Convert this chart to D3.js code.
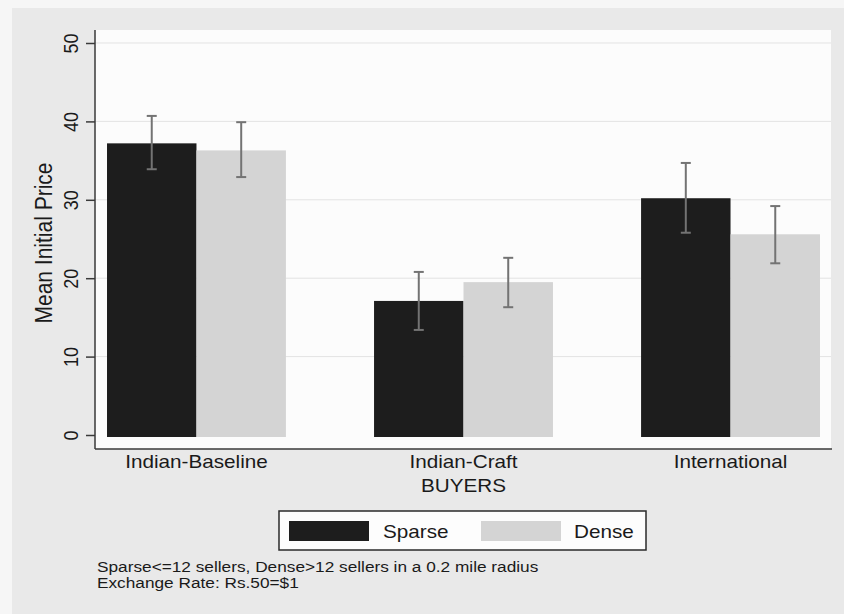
<!DOCTYPE html>
<html>
<head>
<meta charset="utf-8">
<script src="https://cdn.jsdelivr.net/npm/d3@7"></script>
<style>
  html, body { margin: 0; padding: 0; background: #f6f6f6; }
  svg { display: block; }
  text { font-family: "Liberation Sans", Arial, sans-serif; fill: #1a1a1a; }
</style>
</head>
<body>
<svg id="chart" width="844" height="614"></svg>
<script>
// Buyer groups and seller-density series
const categories = ["Indian-Baseline", "Indian-Craft", "International"];
const series = ["Sparse", "Dense"];

// Mean initial price per group (Rs.)
const sparseMean = [37.2, 17.1, 30.2];
const denseMean  = [36.3, 19.5, 25.6];

// 95% confidence bounds
const sparseLow  = [33.9, 13.4, 25.8];
const sparseHigh = [40.7, 20.8, 34.7];
const denseLow   = [32.9, 16.3, 21.9];
const denseHigh  = [39.9, 22.6, 29.2];

const yTicks = [0, 10, 20, 30, 40, 50];
const xTitle = "BUYERS";
const yTitle = "Mean Initial Price";
const notes = [
  "Sparse<=12 sellers, Dense>12 sellers in a 0.2 mile radius",
  "Exchange Rate: Rs.50=$1"
];

const colors = { Sparse: "#1d1d1d", Dense: "#d4d4d4" };

const svg = d3.select("#chart");
const W = 844, H = 614;
const plot = { left: 95, right: 831, top: 30, bottom: 449 };
const stretch = 1.15; // horizontal glyph stretch of the chart's type

// Page and graph background
svg.append("rect").attr("x", 0).attr("y", 0).attr("width", W).attr("height", H).attr("fill", "#f6f6f6");
svg.append("rect").attr("x", 12).attr("y", 8).attr("width", W - 12).attr("height", H - 8).attr("fill", "#e9e9e9");
svg.append("rect")
  .attr("x", plot.left).attr("y", plot.top)
  .attr("width", plot.right - plot.left).attr("height", plot.bottom - plot.top)
  .attr("fill", "#fcfcfc");

// Scales
const x0 = d3.scaleBand().domain(categories).range([plot.left, plot.right + 1])
  .paddingInner(0.33).paddingOuter(0.045);
const x1 = d3.scaleBand().domain(series).range([0, x0.bandwidth()]).padding(0);
const y = d3.scaleLinear().domain([0, 50]).range([435, 43]);

// Horizontal gridlines
svg.append("g").selectAll("line").data(yTicks.filter(d => d > 0)).join("line")
  .attr("x1", plot.left).attr("x2", plot.right)
  .attr("y1", d => y(d)).attr("y2", d => y(d))
  .attr("stroke", "#e3e3e3").attr("stroke-width", 1);

// Rows of bar data
const rows = categories.map((c, i) => ({
  cat: c,
  values: [
    { s: "Sparse", v: sparseMean[i], lo: sparseLow[i], hi: sparseHigh[i] },
    { s: "Dense",  v: denseMean[i],  lo: denseLow[i],  hi: denseHigh[i] }
  ]
}));

const groups = svg.append("g").selectAll("g").data(rows).join("g")
  .attr("transform", d => `translate(${x0(d.cat)},0)`);

groups.selectAll("rect").data(d => d.values).join("rect")
  .attr("x", d => x1(d.s))
  .attr("width", x1.bandwidth())
  .attr("y", d => y(d.v))
  .attr("height", d => y(0) - y(d.v) + 2)
  .attr("fill", d => colors[d.s]);

// Error bars
const eb = groups.selectAll("g.err").data(d => d.values).join("g").attr("class", "err")
  .attr("transform", d => `translate(${x1(d.s) + x1.bandwidth() / 2},0)`)
  .attr("stroke", "#737373").attr("stroke-width", 2);
eb.append("line").attr("x1", 0).attr("x2", 0).attr("y1", d => y(d.lo)).attr("y2", d => y(d.hi));
eb.append("line").attr("x1", -5).attr("x2", 5).attr("y1", d => y(d.hi)).attr("y2", d => y(d.hi));
eb.append("line").attr("x1", -5).attr("x2", 5).attr("y1", d => y(d.lo)).attr("y2", d => y(d.lo));

// Axes lines
svg.append("line").attr("x1", plot.left).attr("x2", plot.left)
  .attr("y1", plot.top).attr("y2", plot.bottom)
  .attr("stroke", "#3a3a3a").attr("stroke-width", 1.5);
svg.append("line").attr("x1", plot.left).attr("x2", plot.right + 1)
  .attr("y1", plot.bottom).attr("y2", plot.bottom)
  .attr("stroke", "#3a3a3a").attr("stroke-width", 1.5);

// Y axis ticks and rotated labels
const yAxis = d3.axisLeft(y).tickValues(yTicks).tickSize(9).tickFormat(d3.format("d"));
const yg = svg.append("g").attr("transform", `translate(${plot.left},0)`).call(yAxis);
yg.select(".domain").remove();
yg.selectAll(".tick line").attr("stroke", "#3a3a3a").attr("stroke-width", 1.5);
yg.selectAll(".tick text").remove();
yg.selectAll(".tick").append("text")
  .attr("transform", `translate(${78 - plot.left},0) scale(${stretch},1) rotate(-90)`)
  .attr("text-anchor", "middle")
  .attr("font-size", 18)
  .attr("fill", "#1a1a1a")
  .text(d => d);

// Helper for stretched horizontal text
function label(x, yy, txt, size, anchor) {
  return svg.append("text")
    .attr("transform", `translate(${x},${yy}) scale(${stretch},1)`)
    .attr("text-anchor", anchor || "start")
    .attr("font-size", size)
    .text(txt);
}

// Category labels and axis title
categories.forEach(c => label(x0(c) + x0.bandwidth() / 2, 468, c, 18, "middle"));
label(x0("Indian-Craft") + x0.bandwidth() / 2, 492, xTitle, 18, "middle");

// Y axis title
svg.append("text")
  .attr("transform", `translate(52,243) scale(${stretch},1) rotate(-90)`)
  .attr("text-anchor", "middle")
  .attr("font-size", 21)
  .text(yTitle);

// Legend
const lg = svg.append("g");
lg.append("rect").attr("x", 279).attr("y", 511).attr("width", 367).attr("height", 39)
  .attr("fill", "#fdfdfd").attr("stroke", "#2a2a2a").attr("stroke-width", 1.5);
const legendItems = [
  { s: "Sparse", sx: 289, tx: 383 },
  { s: "Dense",  sx: 481, tx: 574 }
];
legendItems.forEach(d => {
  lg.append("rect").attr("x", d.sx).attr("y", 521).attr("width", 80).attr("height", 20)
    .attr("fill", colors[d.s]);
  label(d.tx, 538, d.s, 18, "start");
});

// Notes
notes.forEach((n, i) => label(97, 572 + i * 16, n, 15, "start"));
</script>
</body>
</html>
